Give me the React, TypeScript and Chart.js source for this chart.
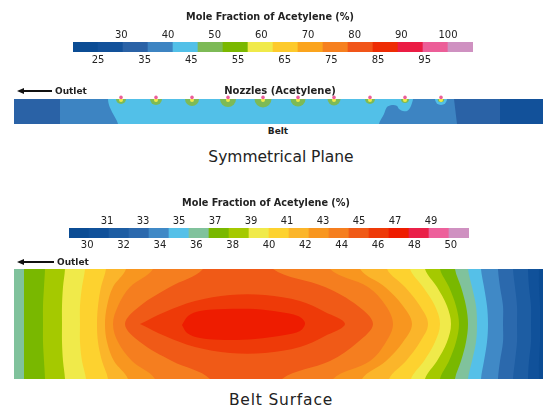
import React, { useEffect, useRef } from "react";
import { Chart, registerables } from "chart.js";

Chart.register(...registerables);

const FONT = "'DejaVu Sans', 'Liberation Sans', sans-serif";

// ---------- Symmetrical plane legend: 16 levels, 25–100 % ----------
const planeLevels = [25, 30, 35, 40, 45, 50, 55, 60, 65, 70, 75, 80, 85, 90, 95, 100];
const planeColors = [
  "#0b4c94", "#12519a", "#2a62a6", "#3d84c2", "#52c0e8", "#7dba56", "#7ab800", "#f0ea4a",
  "#fdca2c", "#fba41d", "#f6801f", "#f15519", "#ee2c04", "#eb1c44", "#ec5e98", "#cf91c1",
];
const planeTopTicks = [30, 40, 50, 60, 70, 80, 90, 100];
const planeBottomTicks = [25, 35, 45, 55, 65, 75, 85, 95];

// ---------- Belt surface legend: 20 bands, 30–50 % ----------
const beltLevels = [30, 31, 32, 33, 34, 35, 36, 37, 38, 39, 40, 41, 42, 43, 44, 45, 46, 47, 48, 49];
const beltColors = [
  "#0b4c94", "#10519a", "#1d5da3", "#2b69ad", "#4089c6", "#55c0e8", "#80c29c", "#79b800",
  "#a5c900", "#f0ea4a", "#fdd22f", "#fbb52a", "#f8961f", "#f57e1f", "#f05a17", "#ee3a08",
  "#ee1c00", "#ea2048", "#ed609b", "#cf91c1",
];
const beltTopTicks = [31, 33, 35, 37, 39, 41, 43, 45, 47, 49];
const beltBottomTicks = [30, 32, 34, 36, 38, 40, 42, 44, 46, 48, 50];

// ---------- Symmetrical plane field (position 0–529 along belt, depth 0–25) ----------
const planeLength = 529;
const planeDepth = 25;
const planeBase = [[-20, -20], [560, -20], [560, 45], [-20, 45]];
const plane35 = [[-20, -20], [486, -20], [486, 45], [-20, 45]];
const plane40 = [[46, -20], [440, -20], [440, 0], [443, 25], [443, 45], [46, 45]];
const plane45 = [
  [94, -20], [94, 0], [95, 6], [98, 13], [104, 25], [104, 45], [365, 45], [365, 25], [370, 15],
  [373, 8], [378, 6], [383, 7], [385, 10], [389, 12], [393, 12], [396, 9], [398, 4], [399, 0], [399, -20],
];
const nozzleX = [107, 142, 178, 214, 249, 284, 320, 356, 391, 427];
const plumeR = [5, 6, 7, 8, 8.5, 7.5, 6.5, 5, 4, 3.3];
const haloX = [427];
const haloR = [6];

// ---------- Belt surface field (position 0–529, width 0–110) ----------
const beltLength = 529;
const beltWidth = 110;
const beltY = [0, 18, 37, 55, 73, 92, 110];
const beltRightLevels = [31, 32, 33, 34, 35, 36, 37, 38, 39, 40, 41, 42, 43, 44];
const beltRightX = [
  [525, 525, 526, 526, 526, 525, 525],
  [514, 515, 517, 517, 517, 515, 514],
  [499, 501, 503, 503, 503, 501, 499],
  [484, 486, 489, 489, 489, 486, 484],
  [467, 470, 473, 474, 473, 470, 467],
  [454, 458, 462, 463, 462, 458, 454],
  [441, 447, 452, 454, 452, 447, 441],
  [426, 435, 442, 445, 442, 435, 426],
  [411, 423, 433, 437, 433, 423, 411],
  [396, 409, 421, 426, 421, 410, 397],
  [373, 391, 406, 414, 406, 392, 375],
  [346, 371, 389, 398, 389, 372, 348],
  [316, 354, 372, 379, 372, 356, 319],
  [259, 311, 344, 359, 344, 316, 268],
];
const beltLeftLevels = [37, 38, 39, 40, 41, 42, 43, 44];
const beltLeftX = [
  [10, 10, 10, 10, 10, 10, 10],
  [31, 30, 29, 29, 29, 30, 31],
  [51, 49, 48, 48, 48, 49, 51],
  [71, 68, 66, 66, 66, 68, 72],
  [92, 87, 84, 83, 84, 88, 94],
  [112, 99, 93, 91, 93, 100, 114],
  [139, 116, 104, 99, 104, 118, 141],
  [189, 156, 126, 111, 126, 158, 196],
];
const beltCore45 = [
  [126, 55], [151, 43], [181, 32], [216, 26], [251, 26], [286, 32], [311, 43], [331, 55],
  [311, 67], [286, 78], [251, 84], [216, 84], [181, 78], [151, 67], [126, 55],
];
const beltCore46 = [
  [168, 56], [174, 47], [186, 42], [211, 40], [241, 40], [266, 43], [284, 47], [291, 54],
  [286, 62], [271, 66], [241, 70], [211, 71], [186, 69], [173, 64], [168, 56],
];

// ---------- helpers ----------
function polyDataset(points: number[][], color: string, tension: number) {
  return {
    type: "scatter",
    data: points.map(([x, y]) => ({ x, y })),
    showLine: true,
    fill: "shape",
    backgroundColor: color,
    borderColor: color,
    borderWidth: 0,
    pointRadius: 0,
    pointHoverRadius: 0,
    tension,
  };
}

function fieldConfig(layers: any[], xMax: number, yMax: number, padTop: number) {
  const datasets = layers.map((d, i) => ({ ...d, order: layers.length - i }));
  return {
    type: "scatter",
    data: { datasets },
    options: {
      animation: false,
      responsive: false,
      events: [],
      layout: { autoPadding: false, padding: { top: padTop, left: 0, right: 0, bottom: 0 } },
      elements: { line: { capBezierPoints: false } },
      plugins: { legend: { display: false }, tooltip: { enabled: false } },
      scales: {
        x: { type: "linear", display: false, min: 0, max: xMax },
        y: { type: "linear", display: false, min: 0, max: yMax, reverse: true },
      },
    },
  };
}

function colorbarConfig(
  levels: number[], colors: string[], min: number, max: number,
  topTicks: number[], bottomTicks: number[],
  padL: number, padR: number, topH: number, botH: number, topPad: number, botPad: number
) {
  const tickFont = { family: FONT, size: 10 };
  const axis = (pos: string, ticks: number[], h: number, pad: number) => ({
    type: "linear",
    position: pos,
    axis: "x",
    min,
    max,
    grid: { display: false, drawTicks: false },
    border: { display: false },
    ticks: { padding: pad, autoSkip: false, maxRotation: 0, color: "#222", font: tickFont },
    afterBuildTicks: (s: any) => {
      s.ticks = ticks.map((v) => ({ value: v }));
    },
    afterFit: (s: any) => {
      s.height = h;
    },
  });
  return {
    type: "bar",
    data: {
      labels: levels.map(String),
      datasets: [
        {
          data: levels.map(() => 1),
          backgroundColor: colors,
          borderWidth: 0,
          barPercentage: 1,
          categoryPercentage: 1,
        },
      ],
    },
    options: {
      animation: false,
      responsive: false,
      events: [],
      layout: { autoPadding: false, padding: { left: padL, right: padR, top: 0, bottom: 0 } },
      plugins: { legend: { display: false }, tooltip: { enabled: false } },
      scales: {
        x: { type: "category", display: false },
        y: { type: "linear", display: false, min: 0, max: 1 },
        xTop: axis("top", topTicks, topH, topPad),
        xBottom: axis("bottom", bottomTicks, botH, botPad),
      },
    },
  };
}

function planeLayers() {
  const layers: any[] = [
    polyDataset(planeBase, planeColors[1], 0),
    polyDataset(plane35, planeColors[2], 0),
    polyDataset(plane40, planeColors[3], 0),
    polyDataset(plane45, planeColors[4], 0.3),
    {
      type: "bubble",
      data: haloX.map((x, i) => ({ x, y: 0, r: haloR[i] })),
      backgroundColor: planeColors[4],
      borderWidth: 0,
    },
    {
      type: "bubble",
      data: nozzleX.map((x, i) => ({ x, y: 0, r: plumeR[i] })),
      backgroundColor: planeColors[5],
      borderWidth: 0,
    },
    {
      type: "scatter",
      data: nozzleX.map((x) => ({ x, y: 1 })),
      backgroundColor: planeColors[7],
      borderWidth: 0,
      pointRadius: 2,
    },
    {
      type: "scatter",
      data: nozzleX.map((x) => ({ x, y: -1.6 })),
      backgroundColor: planeColors[14],
      borderWidth: 0,
      pointRadius: 1.8,
      clip: false,
    },
  ];
  return layers;
}

function beltLayers() {
  const top = -20;
  const bottom = beltWidth + 20;
  const layers: any[] = [
    polyDataset([[-20, top], [560, top], [560, bottom], [-20, bottom]], beltColors[0], 0),
  ];
  for (let k = 0; k < beltRightLevels.length; k++) {
    const level = beltRightLevels[k];
    const rx = beltRightX[k];
    const right = beltY.map((y, i) => [rx[i], y]);
    const li = beltLeftLevels.indexOf(level);
    let left: number[][];
    if (li < 0) {
      left = [[-20, bottom], [-20, top]];
    } else {
      const lx = beltLeftX[li];
      left = [[lx[lx.length - 1], bottom], ...beltY.map((y, i) => [lx[i], y]).reverse(), [lx[0], top]];
    }
    const pts = [[rx[0], top], ...right, [rx[rx.length - 1], bottom], ...left];
    layers.push(polyDataset(pts, beltColors[level - 30], 0.35));
  }
  layers.push(polyDataset(beltCore45, beltColors[15], 0.35));
  layers.push(polyDataset(beltCore46, beltColors[16], 0.35));
  return layers;
}

const Label = (p: { x: number; y: number; text: string; size: number; bold?: boolean; left?: boolean; spacing?: number }) => (
  <div
    style={{
      position: "absolute",
      left: p.x,
      top: p.y,
      transform: p.left ? "translate(0,-50%)" : "translate(-50%,-50%)",
      fontSize: p.size,
      fontWeight: p.bold ? "bold" : "normal",
      whiteSpace: "nowrap",
      lineHeight: 1,
      letterSpacing: p.spacing || 0,
    }}
  >
    {p.text}
  </div>
);

const Arrow = (p: { x1: number; x2: number; y: number }) => (
  <>
    <div style={{ position: "absolute", left: p.x1 + 5, top: p.y - 1, width: p.x2 - p.x1 - 5, height: 2, background: "#111" }} />
    <div
      style={{
        position: "absolute",
        left: p.x1,
        top: p.y - 3.5,
        width: 0,
        height: 0,
        borderTop: "3.5px solid transparent",
        borderBottom: "3.5px solid transparent",
        borderRight: "7px solid #111",
      }}
    />
  </>
);

export default function App() {
  const cb1 = useRef<HTMLCanvasElement>(null);
  const plane = useRef<HTMLCanvasElement>(null);
  const cb2 = useRef<HTMLCanvasElement>(null);
  const belt = useRef<HTMLCanvasElement>(null);

  useEffect(() => {
    const charts = [
      new Chart(cb1.current as HTMLCanvasElement, colorbarConfig(planeLevels, planeColors, 25, 100, planeTopTicks, planeBottomTicks, 73, 72, 42, 20, 1, 2) as any),
      new Chart(plane.current as HTMLCanvasElement, fieldConfig(planeLayers(), planeLength, planeDepth, 5) as any),
      new Chart(cb2.current as HTMLCanvasElement, colorbarConfig(beltLevels, beltColors, 30, 50, beltTopTicks, beltBottomTicks, 69, 76, 48, 20, 1, 1) as any),
      new Chart(belt.current as HTMLCanvasElement, fieldConfig(beltLayers(), beltLength, beltWidth, 0) as any),
    ];
    return () => charts.forEach((c) => c.destroy());
  }, []);

  const abs = (l: number, t: number, w: number, h: number) => ({ position: "absolute" as const, left: l, top: t, width: w, height: h });

  return (
    <div
      style={{
        position: "fixed",
        left: 0,
        top: 0,
        width: 545,
        height: 412,
        background: "#fff",
        overflow: "hidden",
        fontFamily: FONT,
        color: "#222",
      }}
    >
      <canvas ref={cb1} width={545} height={72} style={abs(0, 0, 545, 72)} />
      <canvas ref={plane} width={529} height={30} style={abs(14, 94, 529, 30)} />
      <canvas ref={cb2} width={545} height={78} style={abs(0, 180, 545, 78)} />
      <canvas ref={belt} width={529} height={110} style={abs(14, 269, 529, 110)} />

      <Label x={270} y={17} text="Mole Fraction of Acetylene (%)" size={9.7} bold />
      <Arrow x1={17} x2={52} y={91} />
      <Label x={55} y={91} text="Outlet" size={9} bold left />
      <Label x={280} y={91} text="Nozzles (Acetylene)" size={10} bold />
      <Label x={278} y={131} text="Belt" size={9} bold />
      <Label x={281} y={158} text="Symmetrical Plane" size={15.5} />

      <Label x={266} y={203} text="Mole Fraction of Acetylene (%)" size={9.7} bold />
      <Arrow x1={17} x2={54} y={262} />
      <Label x={57} y={262} text="Outlet" size={9} bold left />
      <Label x={281} y={401} text="Belt Surface" size={15.5} spacing={0.8} />
    </div>
  );
}
